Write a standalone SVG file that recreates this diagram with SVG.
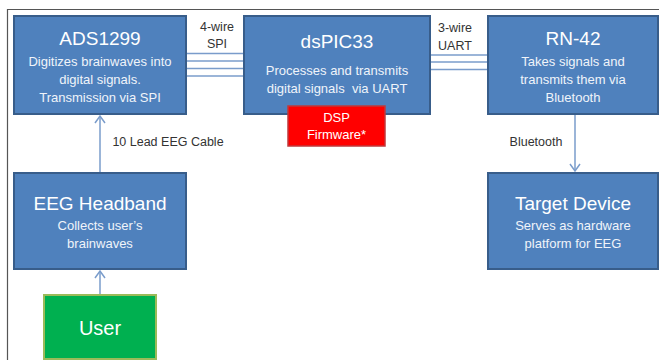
<svg xmlns="http://www.w3.org/2000/svg" width="659" height="360" viewBox="0 0 659 360">
<style>
.box{fill:#4F81BD;stroke:#385D8A;stroke-width:2}
.t{font-family:"Liberation Sans",Arial,sans-serif;fill:#fff;text-anchor:middle}
.title{font-size:19px}
.sub{font-size:13px;fill:#F0F4FA}
.lbl{font-family:"Liberation Sans",Arial,sans-serif;font-size:12.5px;fill:#333;text-anchor:middle}
.wire{stroke:#7A9CCB;stroke-width:1.5;fill:none}
.arr{stroke:#7A9CCB;stroke-width:1.5;fill:none;marker-end:url(#ah)}
</style>
<defs>
<marker id="ah" markerWidth="12" markerHeight="12" refX="9" refY="6" orient="auto" markerUnits="userSpaceOnUse">
<path d="M2,1 L9,6 L2,11" fill="none" stroke="#7A9CCB" stroke-width="1.5"/>
</marker>
</defs>
<rect width="659" height="360" fill="#fff"/>
<path d="M7.5,360 V9.5 H659" fill="none" stroke="#555" stroke-width="1.2"/>
<g id="connectors">
<line class="wire" x1="186" y1="53.5" x2="244" y2="53.5"/>
<line class="wire" x1="186" y1="61" x2="244" y2="61"/>
<line class="wire" x1="186" y1="68.5" x2="244" y2="68.5"/>
<line class="wire" x1="186" y1="76" x2="244" y2="76"/>
<line class="wire" x1="430" y1="55" x2="488" y2="55"/>
<line class="wire" x1="430" y1="62" x2="488" y2="62"/>
<line class="wire" x1="430" y1="69.5" x2="488" y2="69.5"/>
<line class="arr" x1="100" y1="172" x2="100" y2="116"/>
<line class="arr" x1="100" y1="295" x2="100" y2="271"/>
<line class="arr" x1="575" y1="115" x2="575" y2="171"/>
<text class="lbl" x="217" y="31">4-wire</text>
<text class="lbl" x="217" y="48">SPI</text>
<text class="lbl" x="455" y="32">3-wire</text>
<text class="lbl" x="455" y="50">UART</text>
<text class="lbl" x="168" y="146">10 Lead EEG Cable</text>
<text class="lbl" x="536" y="146">Bluetooth</text>
</g>
<g id="ads1299">
<rect class="box" x="14" y="16" width="172" height="98"/>
<text class="t title" x="100" y="45">ADS1299</text>
<text class="t sub" x="100" y="66">Digitizes brainwaves into</text>
<text class="t sub" x="100" y="84">digital signals.</text>
<text class="t sub" x="100" y="102">Transmission via SPI</text>
</g>
<g id="dspic33">
<rect class="box" x="244" y="16" width="186" height="98"/>
<text class="t title" x="337" y="48">dsPIC33</text>
<text class="t sub" x="337" y="75">Processes and transmits</text>
<text class="t sub" x="337" y="93" style="white-space:pre">digital signals  via UART</text>
</g>
<g id="dsp-firmware">
<rect x="288" y="106" width="97" height="40" fill="#FF0000" stroke="#C0393B" stroke-width="1.5"/>
<text class="t" style="font-size:13px" x="336.5" y="122">DSP</text>
<text class="t" style="font-size:13px" x="336.5" y="139">Firmware*</text>
</g>
<g id="rn42">
<rect class="box" x="488" y="16" width="170" height="98"/>
<text class="t title" x="573" y="45">RN-42</text>
<text class="t sub" x="573" y="66">Takes signals and</text>
<text class="t sub" x="573" y="84">transmits them via</text>
<text class="t sub" x="573" y="102">Bluetooth</text>
</g>
<g id="eeg-headband">
<rect class="box" x="14" y="173" width="172" height="96"/>
<text class="t title" x="100" y="210">EEG Headband</text>
<text class="t sub" x="100" y="230">Collects user’s</text>
<text class="t sub" x="100" y="248">brainwaves</text>
</g>
<g id="target-device">
<rect class="box" x="488" y="173" width="170" height="96"/>
<text class="t title" x="573" y="210">Target Device</text>
<text class="t sub" x="573" y="230">Serves as hardware</text>
<text class="t sub" x="573" y="248">platform for EEG</text>
</g>
<g id="user">
<rect x="44" y="295" width="112" height="64" fill="#00B050" stroke="#9BBB59" stroke-width="2"/>
<text class="t" style="font-size:20px" x="100" y="335">User</text>
</g>
</svg>
